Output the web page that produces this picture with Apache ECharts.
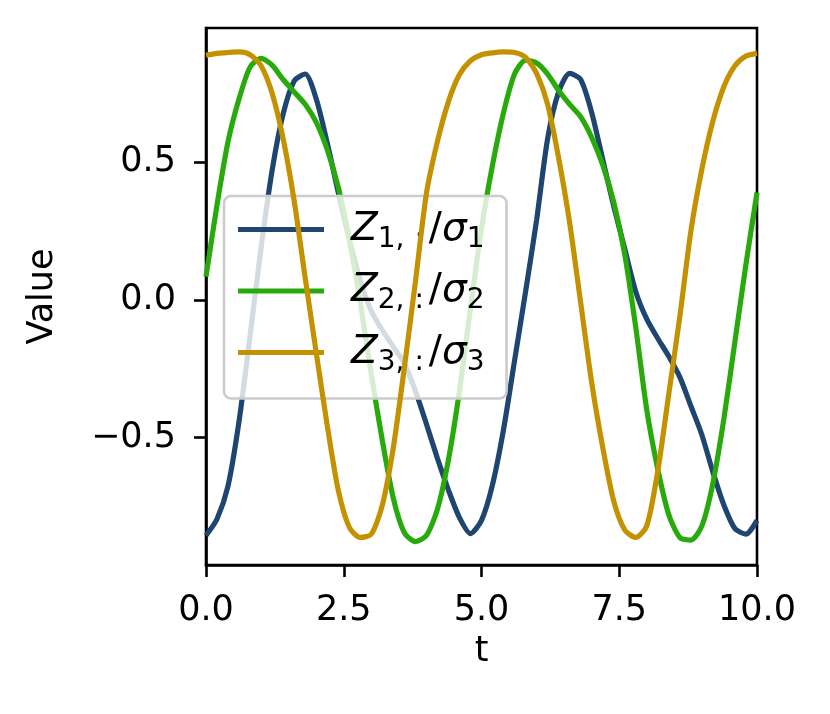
<!DOCTYPE html>
<html>
<head>
<meta charset="utf-8">
<script src="https://cdn.jsdelivr.net/npm/echarts@6/dist/echarts.min.js"></script>
<style>
  html, body { margin: 0; padding: 0; background: #fff; }
  #chart { width: 830px; height: 714px; }
</style>
</head>
<body>
<div id="chart"></div>
<script>
// time samples (t)
const tValues = [
  0.0, 0.2, 0.4, 0.6, 0.8, 1.0, 1.2, 1.4, 1.6, 1.8,
  2.0, 2.2, 2.4, 2.6, 2.8, 3.0, 3.2, 3.4, 3.6, 3.8,
  4.0, 4.2, 4.4, 4.6, 4.8, 5.0, 5.2, 5.4, 5.6, 5.8,
  6.0, 6.2, 6.4, 6.6, 6.8, 7.0, 7.2, 7.4, 7.6, 7.8,
  8.0, 8.2, 8.4, 8.6, 8.8, 9.0, 9.2, 9.4, 9.6, 9.8, 10.0
];

// Z1,:/sigma1
const z1 = [
  -0.855, -0.795, -0.675, -0.44, -0.13, 0.19, 0.47, 0.675, 0.795, 0.82,
  0.73, 0.57, 0.39, 0.22, 0.07, -0.04, -0.11, -0.17, -0.23, -0.33,
  -0.45, -0.575, -0.69, -0.79, -0.848, -0.80, -0.67, -0.47, -0.22, 0.03,
  0.29, 0.585, 0.755, 0.822, 0.80, 0.68, 0.51, 0.34, 0.185, 0.03,
  -0.07, -0.14, -0.205, -0.28, -0.385, -0.49, -0.625, -0.745, -0.83, -0.85, -0.80
];

// Z2,:/sigma2
const z2 = [
  0.085, 0.345, 0.575, 0.73, 0.845, 0.877, 0.852, 0.80, 0.755, 0.71,
  0.645, 0.545, 0.41, 0.22, -0.01, -0.27, -0.51, -0.72, -0.845, -0.877,
  -0.855, -0.76, -0.58, -0.33, -0.03, 0.26, 0.49, 0.68, 0.82, 0.87,
  0.86, 0.82, 0.76, 0.71, 0.665, 0.59, 0.49, 0.355, 0.165, -0.10,
  -0.40, -0.615, -0.78, -0.862, -0.872, -0.82, -0.665, -0.43, -0.15, 0.13, 0.39
];

// Z3,:/sigma3
const z3 = [
  0.888, 0.895, 0.898, 0.900, 0.890, 0.850, 0.750, 0.585, 0.36, 0.08,
  -0.19, -0.455, -0.69, -0.825, -0.862, -0.85, -0.745, -0.535, -0.245, 0.065,
  0.386, 0.575, 0.72, 0.818, 0.868, 0.89, 0.897, 0.90, 0.898, 0.88,
  0.822, 0.71, 0.515, 0.28, -0.01, -0.30, -0.535, -0.73, -0.835, -0.862,
  -0.82, -0.62, -0.34, -0.06, 0.25, 0.475, 0.65, 0.775, 0.85, 0.885, 0.895
];

const seriesNames = ['Z1', 'Z2', 'Z3'];
const seriesColors = ['#1f4571', '#28aa0c', '#c49200'];
const yTicks = [-0.5, 0, 0.5];

const FONT = 'DejaVu Sans';

const pairs = (ys) => tValues.map((t, i) => [t, ys[i]]);

const chart = echarts.init(document.getElementById('chart'), null, { renderer: 'canvas' });

chart.setOption({
  backgroundColor: '#ffffff',
  animation: false,
  grid: {
    left: 206,
    right: 73,
    top: 28,
    bottom: 149,
    show: true,
    borderColor: '#000',
    borderWidth: 2.6,
    backgroundColor: 'transparent'
  },
  xAxis: {
    type: 'value',
    min: 0,
    max: 10,
    interval: 2.5,
    name: 't',
    nameLocation: 'middle',
    nameGap: 69,
    nameTextStyle: { fontFamily: FONT, fontSize: 35, color: '#000' },
    axisLine: { show: true, onZero: false, lineStyle: { color: '#000', width: 2.6 } },
    axisTick: { show: true, inside: false, length: 12, lineStyle: { color: '#000', width: 2.6 } },
    axisLabel: {
      margin: 28,
      fontFamily: FONT,
      fontSize: 35,
      color: '#000',
      showMinLabel: true,
      showMaxLabel: true,
      formatter: (v) => v.toFixed(1)
    },
    splitLine: { show: false }
  },
  yAxis: {
    type: 'value',
    min: -0.962,
    max: 0.987,
    name: 'Value',
    nameLocation: 'middle',
    nameGap: 146,
    nameTextStyle: { fontFamily: FONT, fontSize: 35, color: '#000' },
    axisLine: { show: true, onZero: false, lineStyle: { color: '#000', width: 2.6 } },
    axisTick: {
      show: true, inside: false, length: 12,
      customValues: yTicks,
      lineStyle: { color: '#000', width: 2.6 }
    },
    axisLabel: {
      margin: 30,
      fontFamily: FONT,
      fontSize: 35,
      color: '#000',
      customValues: yTicks,
      formatter: (v) => (v < 0 ? '\u2212' : '') + Math.abs(v).toFixed(1)
    },
    splitLine: { show: false }
  },
  legend: {
    orient: 'vertical',
    left: 224,
    top: 196,
    padding: [14, 22, 22, 14],
    itemGap: 18,
    itemWidth: 86,
    itemHeight: 5,
    icon: 'rect',
    backgroundColor: 'rgba(255,255,255,0.8)',
    borderColor: '#cccccc',
    borderWidth: 2.6,
    borderRadius: 7,
    data: seriesNames,
    formatter: (name) => {
      const n = name.slice(1);
      return `{zf|Z}{sub|${n},}{col|:}{up|/}{it|\u03c3}{sub|${n}}`;
    },
    textStyle: {
      color: '#000',
      fontFamily: FONT,
      rich: {
        zf: { fontFamily: FONT, fontStyle: 'italic', fontSize: 39, color: '#000', padding: [0, 0, 0, 22] },
        it: { fontFamily: FONT, fontStyle: 'italic', fontSize: 39, color: '#000' },
        up: { fontFamily: FONT, fontSize: 39, color: '#000' },
        sub: { fontFamily: FONT, fontSize: 28, color: '#000', padding: [20, 0, 0, 0] },
        col: { fontFamily: FONT, fontSize: 28, color: '#000', padding: [20, 5, 0, 10] }
      }
    }
  },
  series: seriesNames.map((name, i) => ({
    name: name,
    type: 'line',
    data: pairs([z1, z2, z3][i]),
    showSymbol: false,
    smooth: 0.25,
    color: seriesColors[i],
    lineStyle: { width: 5.2, color: seriesColors[i] },
    clip: true,
    z: 2 + i
  }))
});
</script>
</body>
</html>
